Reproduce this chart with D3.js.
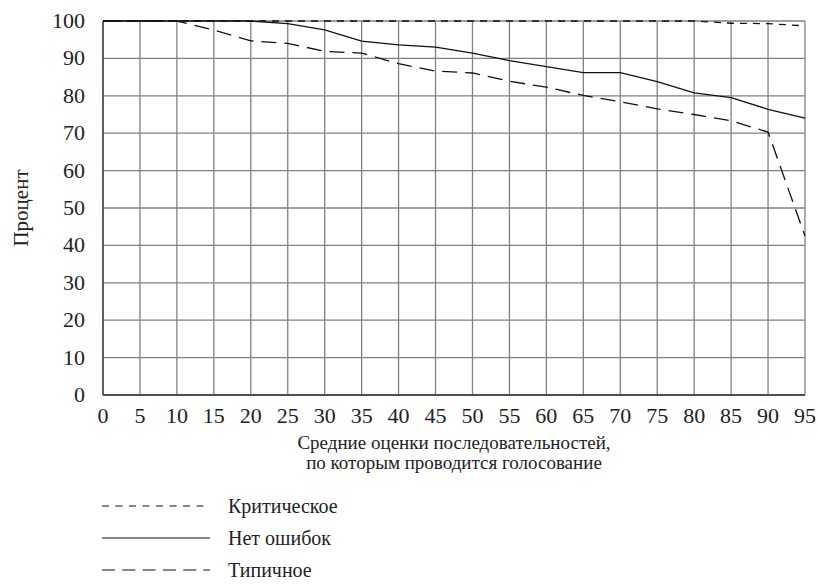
<!DOCTYPE html>
<html>
<head>
<meta charset="utf-8">
<script src="https://cdn.jsdelivr.net/npm/d3@7"></script>
<style>
body { margin: 0; background: #fff; }
</style>
</head>
<body>
<script>
const width = 818, height = 584;
const serif = "'Liberation Serif'";

const xValues = [0, 5, 10, 15, 20, 25, 30, 35, 40, 45, 50, 55, 60, 65, 70, 75, 80, 85, 90, 95];
const critical = [100, 100, 100, 100, 100, 100, 100, 100, 100, 100, 100, 100, 100, 100, 100, 100, 100, 99.4, 99.3, 98.7];
const noErrors = [100, 100, 100, 100, 100, 99.3, 97.6, 94.6, 93.6, 93, 91.4, 89.4, 87.8, 86.2, 86.2, 83.8, 80.8, 79.5, 76.4, 74];
const typical = [100, 100, 100, 97.6, 94.7, 94, 91.9, 91.4, 88.6, 86.6, 86.1, 83.9, 82.3, 80.1, 78.4, 76.5, 75, 73.3, 70.3, 42.5];
const yTicks = [0, 10, 20, 30, 40, 50, 60, 70, 80, 90, 100];

const margin = {left: 103, right: 13, top: 21, bottom: 189};

const x = d3.scaleLinear().domain([0, 95]).range([margin.left, width - margin.right]);
const y = d3.scaleLinear().domain([0, 100]).range([height - margin.bottom, margin.top]);

const svg = d3.select("body").append("svg")
.attr("width", width)
.attr("height", height);

// grid
svg.append("g")
.selectAll("line")
.data(xValues)
.join("line")
.attr("x1", d => x(d)).attr("x2", d => x(d))
.attr("y1", y(0)).attr("y2", y(100))
.attr("stroke", "#808080").attr("stroke-width", 1.3);

svg.append("g")
.selectAll("line")
.data(yTicks)
.join("line")
.attr("x1", x(0)).attr("x2", x(95))
.attr("y1", d => y(d)).attr("y2", d => y(d))
.attr("stroke", "#808080").attr("stroke-width", 1.3);

// axes lines
svg.append("line")
.attr("x1", x(0)).attr("x2", x(95)).attr("y1", y(0)).attr("y2", y(0))
.attr("stroke", "#333").attr("stroke-width", 1.3);
svg.append("line")
.attr("x1", x(0)).attr("x2", x(0)).attr("y1", y(0)).attr("y2", y(100))
.attr("stroke", "#333").attr("stroke-width", 1.3);

// tick labels
svg.append("g")
.selectAll("text")
.data(yTicks)
.join("text")
.attr("x", 85)
.attr("y", d => y(d) + 7)
.attr("text-anchor", "end")
.attr("font-size", 22)
.attr("fill", "#222")
.style("font-family", serif)
.text(d => d);

svg.append("g")
.selectAll("text")
.data(xValues)
.join("text")
.attr("x", d => x(d))
.attr("y", 423)
.attr("text-anchor", "middle")
.attr("font-size", 22)
.attr("fill", "#222")
.style("font-family", serif)
.text(d => d);

// axis titles
svg.append("text")
.attr("x", 454).attr("y", 449)
.attr("text-anchor", "middle")
.attr("font-size", 19)
.attr("fill", "#222")
.style("font-family", serif)
.text("Средние оценки последовательностей,");
svg.append("text")
.attr("x", 454).attr("y", 469)
.attr("text-anchor", "middle")
.attr("font-size", 19)
.attr("fill", "#222")
.style("font-family", serif)
.text("по которым проводится голосование");

svg.append("text")
.attr("transform", "translate(28," + y(50) + ") rotate(-90)")
.attr("text-anchor", "middle")
.attr("font-size", 21)
.attr("fill", "#222")
.style("font-family", serif)
.text("Процент");

// series
const series = [
  {name: "Критическое", values: critical, dash: "7,6"},
  {name: "Нет ошибок", values: noErrors, dash: null},
  {name: "Типичное", values: typical, dash: "15,8"}
];

const line = d3.line()
.x((d, i) => x(xValues[i]))
.y(d => y(d));

svg.append("g")
.selectAll("path")
.data(series)
.join("path")
.attr("d", d => line(d.values))
.attr("fill", "none")
.attr("stroke", "#111")
.attr("stroke-width", 1.3)
.attr("stroke-dasharray", d => d.dash);

// legend
const legend = svg.append("g")
.selectAll("g")
.data(series)
.join("g")
.attr("transform", (d, i) => "translate(102," + (506 + i * 32) + ")");

legend.append("line")
.attr("x1", 0).attr("x2", 108)
.attr("stroke", "#111")
.attr("stroke-width", 1.2)
.attr("stroke-dasharray", (d, i) => i === 0 ? "7,6.5" : (i === 2 ? "13,7.3" : null));

legend.append("text")
.attr("x", 126)
.attr("y", 7)
.attr("font-size", 20)
.attr("fill", "#222")
.style("font-family", serif)
.text(d => d.name);
</script>
</body>
</html>
